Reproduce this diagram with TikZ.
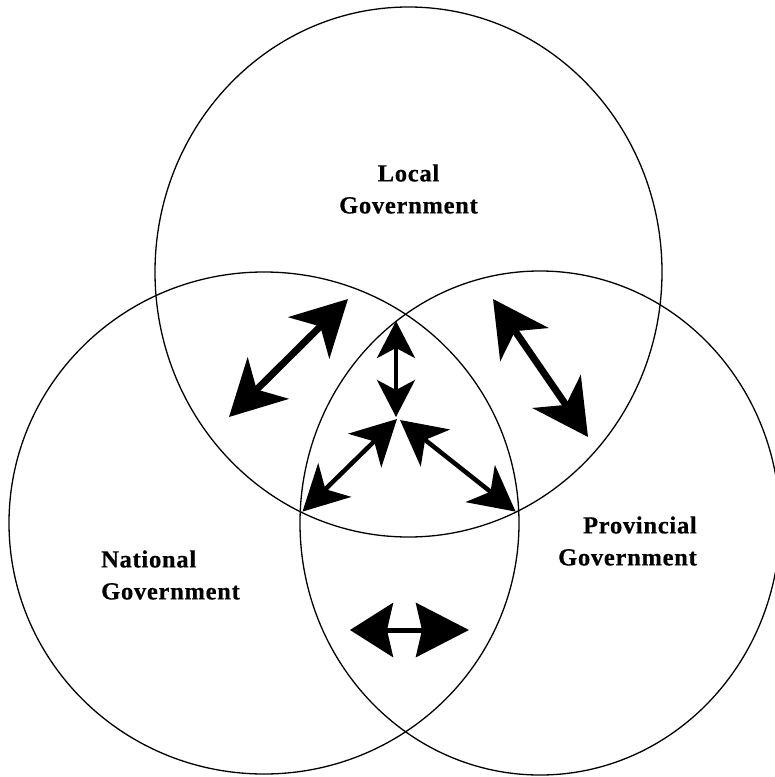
\documentclass[tikz,border=0pt]{standalone}
\usepackage{fontspec}
\setmainfont{Liberation Serif}
\newfontfamily\govfont[LetterSpace=3,FakeBold=0.6]{Liberation Serif}
\usetikzlibrary{arrows.meta}

\begin{document}
\begin{tikzpicture}[x=1pt, y=-1pt,
	ring/.style={line width=1.3pt},
	lbl/.style={font=\govfont\bfseries\fontsize{24.5}{32}\selectfont, inner sep=0pt},
	bigarr/.style={line width=7pt, {Stealth[length=55pt,width=58pt,inset=16pt]}-{Stealth[length=55pt,width=58pt,inset=16pt]}},
	midarr/.style={line width=4.5pt, {Stealth[length=45pt,width=47pt,inset=13pt]}-{Stealth[length=45pt,width=47pt,inset=13pt]}},
	vertarr/.style={line width=4pt, {Stealth[length=37pt,width=38pt,inset=10pt]}-{Stealth[length=37pt,width=38pt,inset=10pt]}},
	flatarr/.style={line width=5pt, {Stealth[length=43pt,width=54pt,inset=6pt]}-{Stealth[length=53pt,width=54pt,inset=6pt]}}]
	\useasboundingbox (0,0) rectangle (775,777);
	\clip (0,0) rectangle (775,777);
	% the three circles
	\draw[ring] (408.5,272) ellipse [x radius=253.5pt, y radius=265pt];
	\draw[ring] (264,523) ellipse [x radius=255pt, y radius=251pt];
	\draw[ring] (540,523) ellipse [x radius=240pt, y radius=252pt];
	% labels
	\node[lbl, align=center] (local) at (408.5,189) {Local\\Government};
	\node[lbl, align=left, anchor=west] (natl) at (101,575) {National\\Government};
	\node[lbl, align=right, anchor=east] (prov) at (697,541) {Provincial\\Government};
	% arrow ends
	\coordinate (ctr) at (397,419);
	\coordinate (ln) at (229,417);
	\coordinate (lt) at (348,299);
	\coordinate (rt) at (493,299);
	\coordinate (rp) at (588,437);
	\coordinate (top) at (396,321);
	\coordinate (bl) at (302.5,511.6);
	\coordinate (br) at (515.6,511.6);
	\coordinate (hl) at (350,630);
	\coordinate (hr) at (469,630);
	% arrows
	\draw[bigarr] (ln) -- (lt);
	\draw[bigarr] (rt) -- (rp);
	\draw[vertarr] (top) -- (396,417);
	\draw[midarr] (bl) -- (ctr);
	\draw[midarr] (br) -- (400,420);
	\draw[flatarr] (hl) -- (hr);
\end{tikzpicture}
\end{document}
